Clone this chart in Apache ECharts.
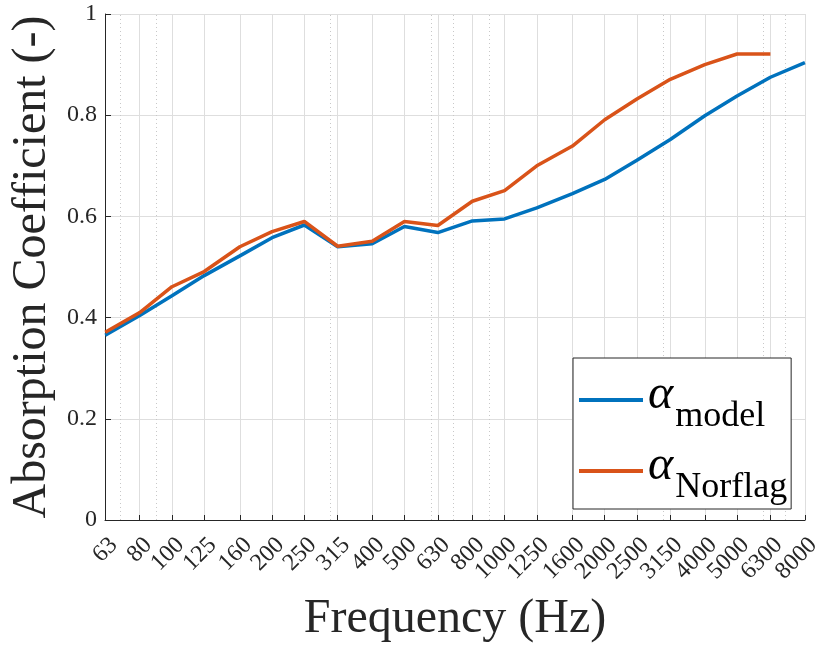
<!DOCTYPE html>
<html>
<head>
<meta charset="utf-8">
<script src="https://cdn.jsdelivr.net/npm/echarts@6/dist/echarts.min.js"></script>
<style>html,body{margin:0;padding:0;background:#fff;}#c{width:824px;height:648px;}</style>
</head>
<body>
<div id="c"></div>
<script>
const freqs = [63,80,100,125,160,200,250,315,400,500,630,800,1000,1250,1600,2000,2500,3150,4000,5000,6300,8000];
const minorFreqs = [70,90,300,600,700,900,3000,6000,7000];
const alphaModel = [0.365,0.404,0.443,0.483,0.522,0.558,0.583,0.540,0.546,0.580,0.568,0.591,0.595,0.617,0.645,0.673,0.711,0.752,0.799,0.838,0.875,0.904];
const alphaNorflag = [0.371,0.410,0.461,0.491,0.540,0.570,0.590,0.541,0.551,0.590,0.582,0.630,0.651,0.700,0.739,0.791,0.832,0.871,0.900,0.921,0.921];

const FONT = 'Liberation Serif';
const chart = echarts.init(document.getElementById('c'));
const pairs = (vals) => vals.map((v,i)=>[freqs[i], v]);

chart.setOption({
  animation:false,
  backgroundColor:'#fff',
  textStyle:{fontFamily:FONT},
  grid:{left:105,right:16,top:14,bottom:127,containLabel:false},
  legend:{
    orient:'vertical',
    left:573, top:358,
    backgroundColor:'#fff',
    borderColor:'#262626', borderWidth:1, borderRadius:0,
    padding:[13,4,3,6],
    itemGap:7,
    itemWidth:64, itemHeight:4,
    icon:'rect',
    data:['model','Norflag'],
    formatter:(n)=>'{a|α}{s|'+n+'}',
    textStyle:{
      fontFamily:FONT, color:'#000',
      rich:{
        a:{fontFamily:FONT, fontStyle:'italic', fontSize:48, color:'#000', padding:[0,0,10,0]},
        s:{fontFamily:FONT, fontSize:36, color:'#000', padding:[34,0,0,2]}
      }
    }
  },
  xAxis:{
    type:'log', logBase:10, min:62.9, max:8010,
    name:'Frequency (Hz)', nameLocation:'middle', nameGap:75,
    nameTextStyle:{fontFamily:FONT, fontSize:48, color:'#262626'},
    axisLine:{show:true, lineStyle:{color:'#262626', width:1}},
    axisTick:{show:true, inside:true, length:5, customValues:freqs, lineStyle:{color:'#262626'}},
    axisLabel:{show:true, customValues:freqs, rotate:45, margin:13, verticalAlign:'top', align:'right',
      fontFamily:FONT, fontSize:24, color:'#262626',
      formatter:(v)=>String(Math.round(v))},
    splitLine:{show:true, lineStyle:{color:'#dedede', width:1}},
    minorTick:{show:false}, minorSplitLine:{show:false}
  },
  yAxis:{
    type:'value', min:0, max:1, interval:0.2,
    axisLine:{show:true, lineStyle:{color:'#262626', width:1}},
    axisTick:{show:true, inside:true, length:6, lineStyle:{color:'#262626'}},
    axisLabel:{margin:8, fontFamily:FONT, fontSize:24, color:'#262626', formatter:(v)=>String(+v.toFixed(1))},
    splitLine:{show:true, lineStyle:{color:'#dedede', width:1}},
    name:'Absorption Coefficient (-)', nameLocation:'middle', nameGap:39,
    nameTextStyle:{fontFamily:FONT, fontSize:48, color:'#262626'}
  },
  series:[
    {name:'model', type:'line', data:pairs(alphaModel), showSymbol:false, symbol:'none',
      lineStyle:{color:'#0072BD', width:3.5}, itemStyle:{color:'#0072BD'}, z:3,
      markLine:{silent:true, symbol:'none', label:{show:false}, z:1,
        lineStyle:{color:'#c8c8c8', width:1, type:[1,3]},
        data:minorFreqs.map(f=>({xAxis:f}))}
    },
    {name:'Norflag', type:'line', data:pairs(alphaNorflag), showSymbol:false, symbol:'none',
      lineStyle:{color:'#D95319', width:3.5}, itemStyle:{color:'#D95319'}, z:4}
  ]
});
</script>
</body>
</html>
